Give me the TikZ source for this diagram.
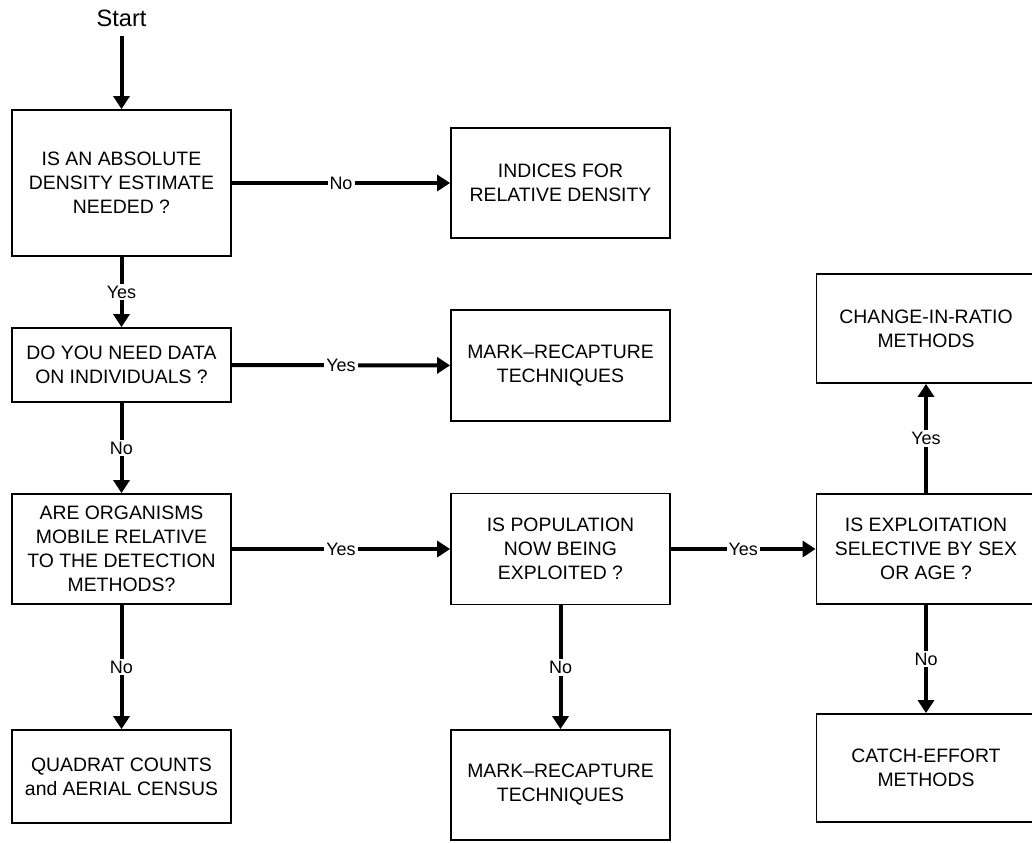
\documentclass[tikz,border=0pt]{standalone}
\usepackage{fontspec}
\setmainfont{Liberation Sans}
\usetikzlibrary{arrows.meta}
\begin{document}
\begin{tikzpicture}[x=0.5pt,y=-0.5pt,
  box/.style={draw, line width=0.9pt, minimum width=109.5pt, align=center,
    font=\fontsize{9.7}{12}\selectfont, inner sep=0pt},
  arr/.style={line width=2pt, -{Triangle[length=6.5pt,width=8pt]}},
  lbl/.style={fill=white, font=\fontsize{9}{11}\selectfont, inner sep=1pt}]
\useasboundingbox (0,0) rectangle (1032,842);
\clip (0,0) rectangle (1032,842);
\node[font=\fontsize{11.8}{14}\selectfont, inner sep=4.7pt] (start) at (121.5,18) {Start};
\node[box, minimum height=73pt] (b1) at (121.5,183) {IS AN ABSOLUTE\\DENSITY ESTIMATE\\NEEDED ?};
\node[box, minimum height=55pt] (b2) at (560.5,183) {INDICES FOR\\RELATIVE DENSITY};
\node[box, minimum height=37pt] (b3) at (121.5,365) {DO YOU NEED DATA\\ON INDIVIDUALS ?};
\node[box, minimum height=55.5pt] (b4) at (560.5,365.5) {MARK–RECAPTURE\\TECHNIQUES};
\node[box, minimum height=55pt] (b5) at (121.5,549) {ARE ORGANISMS\\MOBILE RELATIVE\\TO THE DETECTION\\METHODS?};
\node[box, minimum height=55.5pt] (b6) at (560.5,549) {IS POPULATION\\NOW BEING\\EXPLOITED ?};
\node[box, minimum height=55pt] (b7) at (926,549) {IS EXPLOITATION\\SELECTIVE BY SEX\\OR AGE ?};
\node[box, minimum height=54.5pt] (b8) at (926,328.5) {CHANGE-IN-RATIO\\METHODS};
\node[box, minimum height=46.5pt] (b9) at (121.5,776.5) {QUADRAT COUNTS\\and AERIAL CENSUS};
\node[box, minimum height=55pt] (b10) at (560.5,785) {MARK–RECAPTURE\\TECHNIQUES};
\node[box, minimum height=54pt] (b11) at (926,768) {CATCH-EFFORT\\METHODS};
\draw[arr] (start) -- (b1);
\draw[arr] (b1) -- node[lbl]{No} (b2);
\draw[arr] (b1) -- node[lbl]{Yes} (b3);
\draw[arr] (b3) -- node[lbl]{Yes} (b4);
\draw[arr] (b3) -- node[lbl]{No} (b5);
\draw[arr] (b5) -- node[lbl]{Yes} (b6);
\draw[arr] (b5) -- node[lbl]{No} (b9);
\draw[arr] (b6) -- node[lbl]{Yes} (b7);
\draw[arr] (b6) -- node[lbl]{No} (b10);
\draw[arr] (b7) -- node[lbl]{Yes} (b8);
\draw[arr] (b7) -- node[lbl]{No} (b11);
\end{tikzpicture}
\end{document}
